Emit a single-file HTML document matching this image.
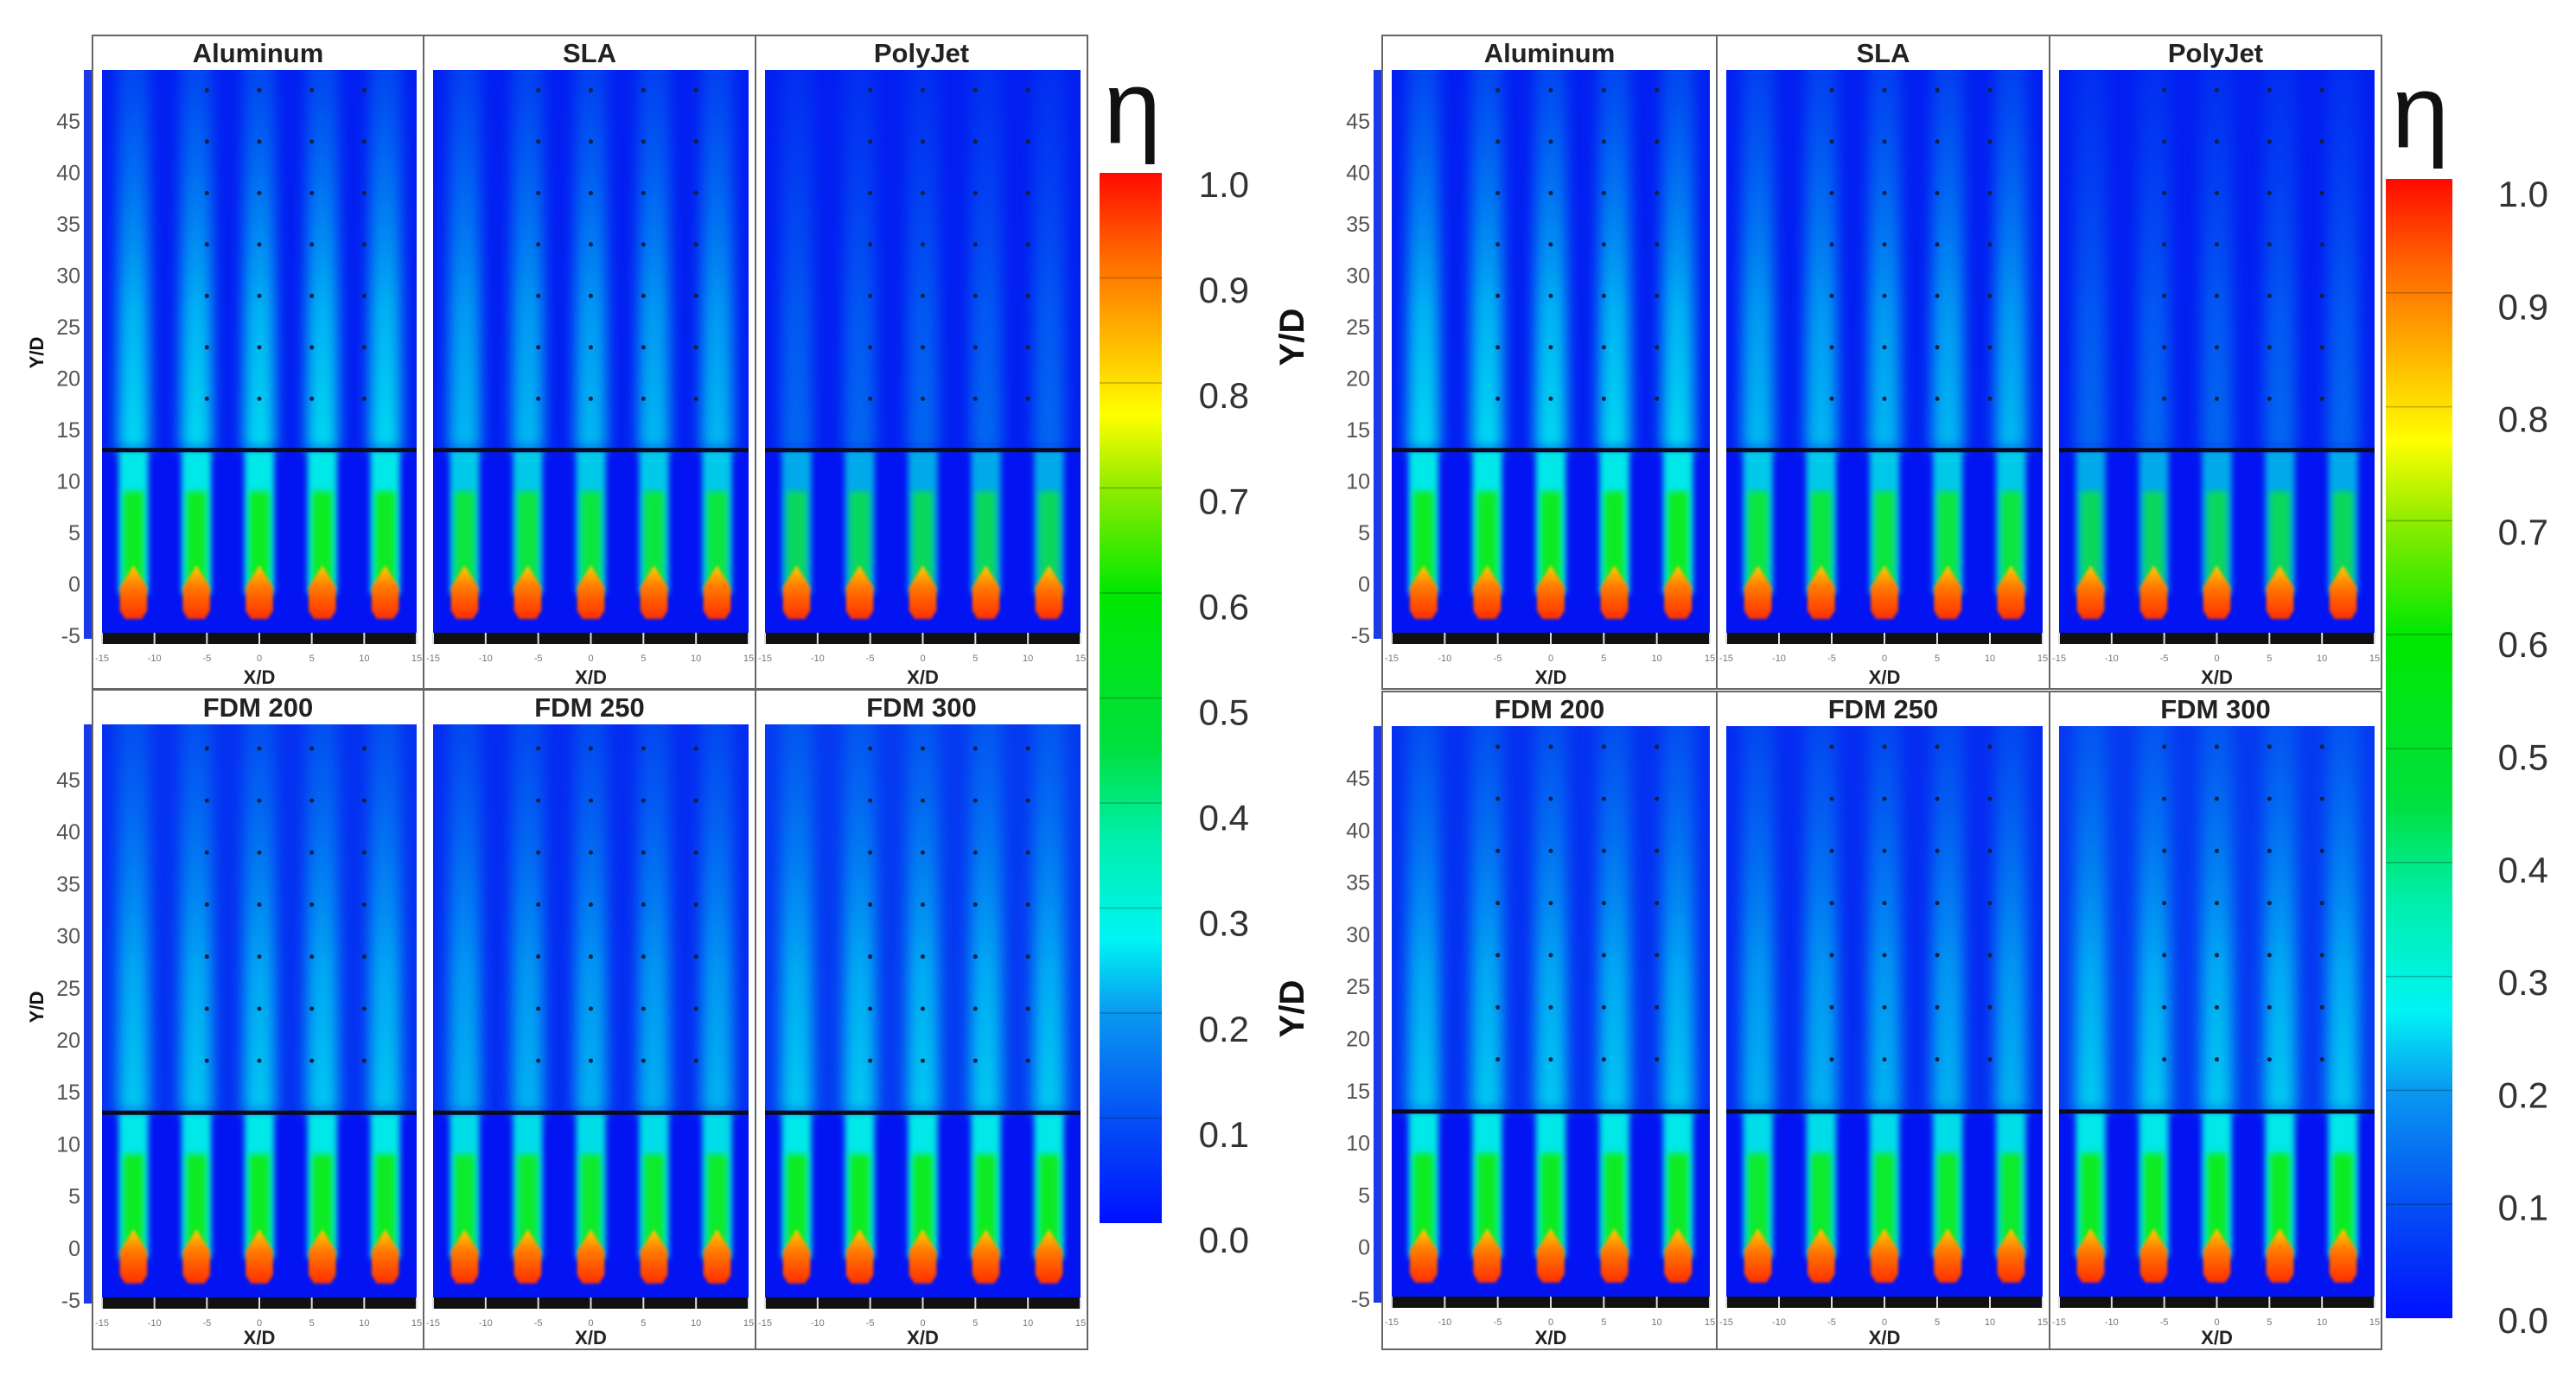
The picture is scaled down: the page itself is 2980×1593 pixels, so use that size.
<!DOCTYPE html>
<html><head><meta charset="utf-8">
<style>
html,body{margin:0;padding:0;background:#fff;}
svg{display:block;}
text{font-family:"Liberation Sans",sans-serif;}
</style></head>
<body>
<svg id="fig" width="2980" height="1593" viewBox="0 0 2980 1593" xmlns="http://www.w3.org/2000/svg">
<defs>
<filter id="b8" x="-50%" y="-10%" width="200%" height="120%"><feGaussianBlur stdDeviation="8"/></filter>
<filter id="b4" x="-50%" y="-10%" width="200%" height="120%"><feGaussianBlur stdDeviation="3.5"/></filter>
<filter id="b2" x="-50%" y="-50%" width="200%" height="200%"><feGaussianBlur stdDeviation="1.5"/></filter>
<linearGradient id="cbar" x1="0" y1="1" x2="0" y2="0">
<stop offset="0" stop-color="#0010ff"/><stop offset="0.1" stop-color="#0450f4"/>
<stop offset="0.2" stop-color="#0a98f0"/><stop offset="0.27" stop-color="#00f4f4"/>
<stop offset="0.37" stop-color="#00eea8"/><stop offset="0.45" stop-color="#00e040"/>
<stop offset="0.6" stop-color="#00e800"/><stop offset="0.7" stop-color="#90ec00"/>
<stop offset="0.77" stop-color="#ffff00"/><stop offset="0.85" stop-color="#ffb000"/>
<stop offset="0.92" stop-color="#ff6a00"/><stop offset="1" stop-color="#ff0a00"/>
</linearGradient>
<linearGradient id="upFade" x1="0" y1="1" x2="0" y2="0">
<stop offset="0" stop-color="#00f0f0" stop-opacity="1"/><stop offset="0.35" stop-color="#00e0f4" stop-opacity="0.85"/>
<stop offset="1" stop-color="#0a90f0" stop-opacity="0.35"/>
</linearGradient>
<linearGradient id="headG" x1="0" y1="0" x2="0" y2="1">
<stop offset="0" stop-color="#ffd000"/><stop offset="0.4" stop-color="#ff7a00"/><stop offset="1" stop-color="#ff3000"/>
</linearGradient>
</defs>
<g id="root"></g>
</svg>
<script>
// ---- data ----
const panelNames = ["Aluminum","SLA","PolyJet","FDM 200","FDM 250","FDM 300"];
const jetX = [-12,-6,0,6,12];
const upperIntensity = [0.9,0.75,0.35,0.8,0.7,0.8];
const lowerIntensity = [1.0,0.85,0.7,1.0,0.95,1.0];
const bgLight = [0.0,0.0,0.0,0.2,0.15,0.3];
const yTicks = [45,40,35,30,25,20,15,10,5,0,-5];
const xTicks = [-15,-10,-5,0,5,10,15];
const dotX = [-5,0,5,10];
const dotY = [18,23,28,33,38,43,48];
const cbTicks = [0.0,0.1,0.2,0.3,0.4,0.5,0.6,0.7,0.8,0.9,1.0];
const lineY = 13;

const NS = "http://www.w3.org/2000/svg";
const root = document.getElementById('root');
function mk(tag, attrs, parent){const e=document.createElementNS(NS,tag);for(const k in attrs)e.setAttribute(k,attrs[k]);(parent||root).appendChild(e);return e;}

const figs = [
 {cols:[107,490,874,1258], rows:[{top:41,y45:140,ym5:735,bot:797},{top:798,y45:902,ym5:1504,bot:1561}], cb:{x:1272,w:72,top:200,bot:1415}, cbLblX:1445, cbLblTop:213, cbLblBot:1434, eta:[1310,165], ydLbl:[{x:50,y:408,big:false},{x:50,y:1165,big:false}]},
 {cols:[1599,1986,2371,2755], rows:[{top:41,y45:140,ym5:735,bot:797},{top:800,y45:900,ym5:1503,bot:1561}], cb:{x:2760,w:77,top:207,bot:1525}, cbLblX:2948, cbLblTop:224, cbLblBot:1527, eta:[2800,170], ydLbl:[{x:1508,y:390,big:true},{x:1508,y:1167,big:true}]}
];

figs.forEach((f,fi)=>{
  const fg = mk('g',{});
  
  
  f.rows.forEach((r,ri)=>{
    for(let ci=0;ci<3;ci++){
      const pi = ri*3+ci;
      const x0=f.cols[ci], x1=f.cols[ci+1];
      const xa=x0+11, xb=x1-8;
      const xAt=v=>xa+(v+15)/30*(xb-xa);
      const yAt=v=>r.ym5-(v+5)/50*(r.ym5-r.y45);
      const pTop=r.top+40;
      const g = mk('g',{},fg);
      
      
      const fr = mk('rect',{x:x0,y:r.top,width:x1-x0,height:r.bot-r.top,fill:'#fff',stroke:'#666','stroke-width':2},g);
      
      
      const t = mk('text',{x:(x0+x1)/2,y:r.top+31,'text-anchor':'middle','font-size':31,'font-weight':'bold',fill:'#222'},g);
      t.textContent=panelNames[pi];
      
      
      const cid='clip'+fi+'_'+pi;
      const cp=mk('clipPath',{id:cid},g); mk('rect',{x:xa,y:pTop,width:xb-xa,height:r.ym5-pTop},cp);
      const pl=mk('g',{'clip-path':'url(#'+cid+')'},g);
      
      
      const bl=bgLight[pi];
      mk('rect',{x:xa,y:pTop,width:xb-xa,height:r.ym5-pTop,fill:'#0314f2'},pl);
      mk('rect',{x:xa,y:pTop,width:xb-xa,height:yAt(lineY)-pTop,fill:'#0a70f0',opacity:0.12+bl},pl);
      const ui=upperIntensity[pi], li=lowerIntensity[pi];
      const w=(xb-xa)/30;
      jetX.forEach(jx=>{
        const cx=xAt(jx);
        const up=mk('rect',{x:cx-1.5*w,y:pTop-20,width:3*w,height:yAt(lineY)-pTop+20,fill:'url(#upFade)',opacity:ui,filter:'url(#b8)'},pl);
        
        
        mk('rect',{x:cx-1.4*w,y:yAt(lineY),width:2.8*w,height:yAt(-1)-yAt(lineY),fill:'#00e8e8',opacity:li,filter:'url(#b4)'},pl);
        const st=mk('rect',{x:cx-0.95*w,y:yAt(lineY-4),width:1.9*w,height:yAt(0)-yAt(lineY-4),fill:'#10ec20',opacity:li,filter:'url(#b4)'},pl);
        
        
        const hd=mk('path',{d:`M${cx} ${yAt(1.8)} L${cx+1.3*w} ${yAt(-0.3)} L${cx+1.3*w} ${yAt(-2.6)} L${cx+0.8*w} ${yAt(-3.4)} L${cx-0.8*w} ${yAt(-3.4)} L${cx-1.3*w} ${yAt(-2.6)} L${cx-1.3*w} ${yAt(-0.3)} Z`,fill:'url(#headG)',filter:'url(#b2)'},pl);
        
        
      });
      dotX.forEach(dx=>dotY.forEach(dy=>{mk('circle',{cx:xAt(dx),cy:yAt(dy),r:2.5,fill:'#102040'},pl);}));
      const ln=mk('line',{x1:xa,x2:xb,y1:yAt(lineY),y2:yAt(lineY),stroke:'#0a0a20','stroke-width':5},g);
      
      
      const ts=mk('rect',{x:xa,y:r.ym5-3,width:xb-xa,height:13,fill:'#111'},g);
      
      
      xTicks.forEach(v=>{
        mk('line',{x1:xAt(v),x2:xAt(v),y1:r.ym5-3,y2:r.ym5+10,stroke:'#ddd','stroke-width':2},g);
        const tl=mk('text',{x:xAt(v),y:r.ym5+30,'text-anchor':'middle','font-size':11,fill:'#777'},g);
        tl.textContent=v;
        
        
      });
      const xl=mk('text',{x:(xa+xb)/2,y:r.bot-6,'text-anchor':'middle','font-size':22,'font-weight':'bold',fill:'#222'},g);
      xl.textContent='X/D';
      
      
      if(ci===0){
        const ax=mk('rect',{x:x0-10,y:pTop,width:9,height:r.ym5-pTop+4,fill:'#1a3ae8'},g);
        
        
        yTicks.forEach(v=>{
          const yl=mk('text',{x:x0-14,y:yAt(v)+9,'text-anchor':'end','font-size':25,fill:'#555'},g);
          yl.textContent=v;
          
          
        });
      }
    }
    const yd=f.ydLbl[ri];
    const yt=mk('text',{x:yd.x,y:yd.y,'text-anchor':'middle','font-size':yd.big?40:22,'font-weight':'bold',fill:'#111',transform:`rotate(-90 ${yd.x} ${yd.y})`},fg);
    yt.textContent='Y/D';
    
    
  });
  const cb=f.cb;
  const cbr=mk('rect',{x:cb.x,y:cb.top,width:cb.w,height:cb.bot-cb.top,fill:'url(#cbar)'},fg);
  
  
  cbTicks.forEach((v,i)=>{
    const yy=cb.bot-v*(cb.bot-cb.top);
    if(i>0&&i<cbTicks.length-1) mk('line',{x1:cb.x,x2:cb.x+cb.w,y1:yy,y2:yy,stroke:'#000','stroke-opacity':0.25,'stroke-width':1.5},fg);
    const ly=f.cbLblBot-v*(f.cbLblBot-f.cbLblTop);
    const cl=mk('text',{x:f.cbLblX,y:ly+15,'text-anchor':'end','font-size':42,fill:'#333'},fg);
    cl.textContent=v.toFixed(1);
    
    
  });
  const et=mk('text',{x:f.eta[0],y:f.eta[1],'text-anchor':'middle','font-size':120,fill:'#111','font-family':'"DejaVu Sans",sans-serif'},fg);
  et.textContent='η';
  
  
});
</script>
</body></html>
